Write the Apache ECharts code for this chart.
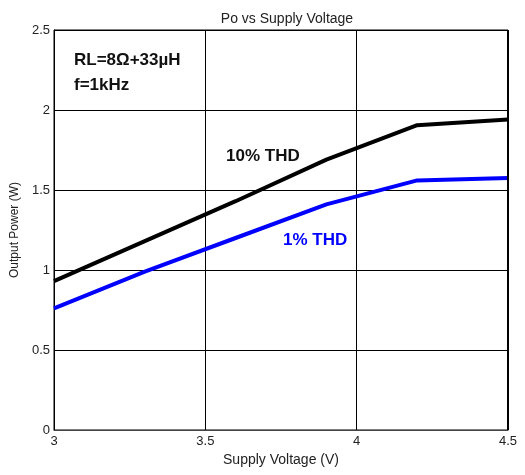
<!DOCTYPE html>
<html><head><meta charset="utf-8">
<script src="https://cdn.jsdelivr.net/npm/echarts@6/dist/echarts.min.js"></script>
<style>html,body{margin:0;padding:0;background:#fff}#c{width:525px;height:475px}</style>
</head><body><div id="c"></div>
<script>
const supplyVoltage = [3.0, 3.3, 3.6, 3.9, 4.2, 4.5];
const thd10 = [0.93, 1.18, 1.43, 1.69, 1.905, 1.94];
const thd1 = [0.76, 0.99, 1.20, 1.41, 1.56, 1.575];
const xTicks = [3, 3.5, 4, 4.5];
const yTicks = [0, 0.5, 1, 1.5, 2, 2.5];

const font = 'Liberation Sans, Arial, sans-serif';
const chart = echarts.init(document.getElementById('c'));
chart.setOption({
  animation: false,
  title: { text: 'Po vs Supply Voltage', left: 282, top: 7, textAlign: 'center',
    textStyle: { fontFamily: font, fontSize: 14, fontWeight: 'normal', color: '#222' } },
  grid: { left: 54, right: 17, top: 30, bottom: 45, show: true, borderColor: '#000', borderWidth: 1,
    backgroundColor: 'transparent', outerBoundsMode: 'none', containLabel: false },
  xAxis: { type: 'value', min: 3, max: 4.5, interval: 0.5,
    name: 'Supply Voltage (V)', nameLocation: 'middle', nameGap: 23,
    nameTextStyle: { fontFamily: font, fontSize: 14, color: '#222' },
    axisLine: { show: true, lineStyle: { color: '#444', width: 1 } },
    axisTick: { show: false },
    axisLabel: { fontFamily: font, fontSize: 13, color: '#222', margin: 5,
      formatter: v => xTicks.includes(v) ? String(v) : '' },
    splitLine: { show: true, lineStyle: { color: '#000', width: 1 } } },
  yAxis: { type: 'value', min: 0, max: 2.5, interval: 0.5,
    name: 'Output Power (W)', nameLocation: 'middle', nameGap: 32, nameRotate: 90,
    nameTextStyle: { fontFamily: font, fontSize: 12, color: '#222' },
    axisLine: { show: true, lineStyle: { color: '#000', width: 1 } },
    axisTick: { show: false },
    axisLabel: { fontFamily: font, fontSize: 13, color: '#222', margin: 4,
      formatter: v => yTicks.includes(v) ? String(v) : '' },
    splitLine: { show: true, lineStyle: { color: '#000', width: 1 } } },
  series: [
    { type: 'line', name: '10% THD', data: supplyVoltage.map((x, i) => [x, thd10[i]]),
      showSymbol: false, lineStyle: { color: '#000', width: 4 }, z: 3 },
    { type: 'line', name: '1% THD', data: supplyVoltage.map((x, i) => [x, thd1[i]]),
      showSymbol: false, lineStyle: { color: '#0000ff', width: 4 }, z: 3 }
  ],
  graphic: [
    { type: 'line', shape: { x1: 508, y1: 30, x2: 508, y2: 430 }, style: { stroke: '#000', lineWidth: 2 }, z: 10 },
    { type: 'text', x: 74, y: 60, style: { text: 'RL=8Ω+33µH', font: 'bold 17px ' + font, fill: '#111', verticalAlign: 'middle' } },
    { type: 'text', x: 74, y: 85, style: { text: 'f=1kHz', font: 'bold 17px ' + font, fill: '#111', verticalAlign: 'middle' } },
    { type: 'text', x: 226, y: 156, style: { text: '10% THD', font: 'bold 17px ' + font, fill: '#111', verticalAlign: 'middle' } },
    { type: 'text', x: 283, y: 240, style: { text: '1% THD', font: 'bold 17px ' + font, fill: '#0000ff', verticalAlign: 'middle' } }
  ]
});
</script></body></html>
